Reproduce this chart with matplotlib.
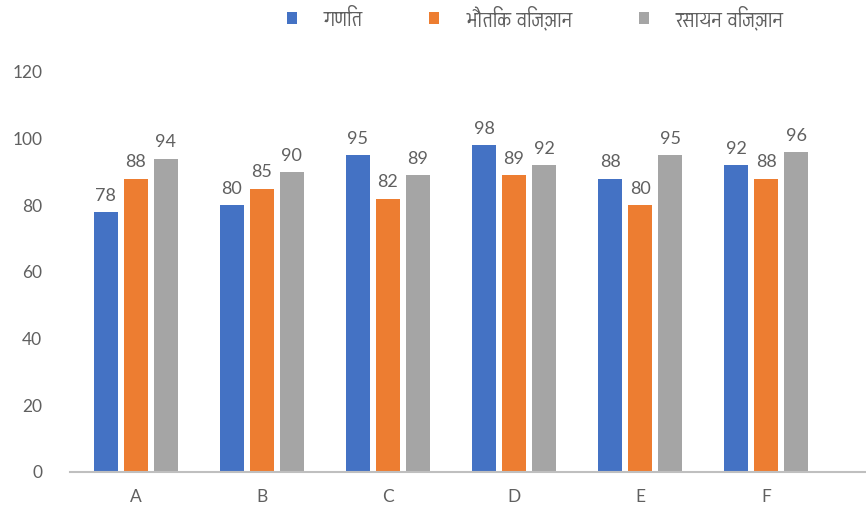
import matplotlib
matplotlib.use("Agg")
import numpy as np
import matplotlib.pyplot as plt
from matplotlib import font_manager
from matplotlib.ft2font import FT2Font

categories = ["A", "B", "C", "D", "E", "F"]
series_names = ["गणित", "भौतिक विज्ञान", "रसायन विज्ञान"]
maths = [78, 80, 95, 98, 88, 92]
physics = [88, 85, 82, 89, 80, 88]
chemistry = [94, 90, 89, 92, 95, 96]
colors = ["#4472C4", "#ED7D31", "#A5A5A5"]


# look for installed fonts that have Devanagari glyphs, prefer non-mono ones
deva_fonts = []
for f in font_manager.fontManager.ttflist:
    try:
        cmap = FT2Font(f.fname).get_charmap()
    except Exception:
        continue
    if 0x0917 in cmap and 0x093F in cmap and f.name not in deva_fonts:
        deva_fonts.append(f.name)
deva_fonts.sort(key=lambda n: ("Mono" in n, n))

plt.rcParams["font.family"] = ["Lato"] + deva_fonts[:1] + ["DejaVu Sans"]

fig = plt.figure(figsize=(8.66, 5.14), dpi=100)
ax = fig.add_axes([70 / 866, 42 / 514, 796 / 866, 400 / 514])

x = np.arange(len(categories))
w = 0.19
step = 0.238
text_col = "#606060"

for i, vals in enumerate([maths, physics, chemistry]):
    pos = x + (i - 1) * step
    bars = ax.bar(pos, vals, w, color=colors[i], label=series_names[i], zorder=2)
    for b, v in zip(bars, vals):
        ax.annotate(str(v), (b.get_x() + b.get_width() / 2, v),
                    xytext=(0, 6), textcoords="offset points",
                    ha="center", va="bottom", fontsize=13, color=text_col)

ax.set_xlim(-0.52, 5.79)
ax.set_ylim(0, 120)
ax.set_yticks(range(0, 121, 20))
ax.set_xticks(x)
ax.set_xticklabels(categories)
ax.tick_params(length=0, labelsize=12.5, colors=text_col)
ax.tick_params(axis="y", pad=20)
ax.tick_params(axis="x", pad=12)

for s in ["top", "right", "left"]:
    ax.spines[s].set_visible(False)
ax.spines["bottom"].set_color("#BFBFBF")
ax.spines["bottom"].set_linewidth(1.5)

leg = fig.legend(loc="center", bbox_to_anchor=(535 / 866, 1 - 18 / 514), ncol=3,
                 frameon=False, fontsize=16, handlelength=0.45, handleheight=0.45,
                 columnspacing=3.0, handletextpad=1.2)
for t in leg.get_texts():
    t.set_color(text_col)

fig.savefig("out.png", dpi=100)
